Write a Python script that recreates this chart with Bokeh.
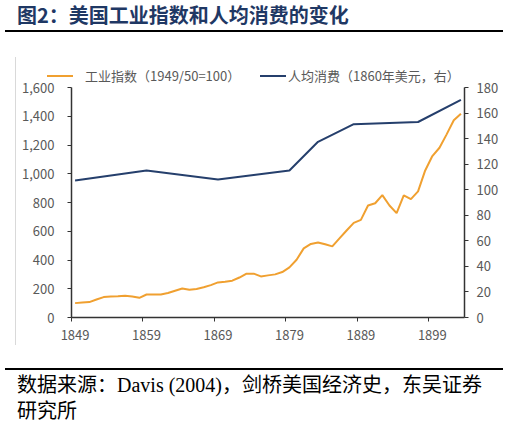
from bokeh.plotting import figure
from bokeh.models import Range1d, LinearAxis, FixedTicker, NumeralTickFormatter, Div
from bokeh.layouts import column, row
from bokeh.embed import file_html
from bokeh.resources import INLINE

# industrial index, 1949/50 = 100 (left axis)
ind_years = list(range(1849, 1904))
industry = [100, 104, 107, 125, 142, 146, 147, 151, 146, 137,
            160, 160, 160, 170, 186, 202, 193, 198, 210, 225,
            244, 249, 256, 278, 305, 305, 286, 293, 300, 316,
            349, 402, 481, 512, 522, 509, 495, 550, 605, 658,
            679, 779, 795, 851, 779, 726, 849, 823, 877, 1023,
            1123, 1181, 1274, 1372, 1418]

# per capita consumption, 1860 dollars (right axis)
cons_years = [1849, 1859, 1869, 1879, 1883, 1888, 1897, 1903]
consumption = [107.2, 115, 108, 115, 137.5, 151.3, 153, 170.3]

tick_years = [1849, 1859, 1869, 1879, 1889, 1899]
left_ticks = [0, 200, 400, 600, 800, 1000, 1200, 1400, 1600]
right_ticks = [0, 20, 40, 60, 80, 100, 120, 140, 160, 180]

title_text = "图2：美国工业指数和人均消费的变化"
legend_ind = "工业指数（1949/50=100）"
legend_cons = "人均消费（1860年美元，右）"
source_1 = "数据来源：Davis (2004)，剑桥美国经济史，东吴证券"
source_2 = "研究所"

ORANGE = "#F0A030"
NAVY = "#253F6C"
GREY = "#595959"
AXIS = "#333333"
SANS = "Noto Sans CJK SC"

p = figure(width=493, height=266, output_backend="svg", toolbar_location=None,
           x_range=Range1d(1848.5, 1903.5), y_range=Range1d(0, 1600))
p.min_border_left = 55
p.min_border_right = 45
p.min_border_top = 8
p.min_border_bottom = 28
p.outline_line_color = None
p.xgrid.visible = False
p.ygrid.visible = False
p.border_fill_color = None
p.background_fill_color = None
p.margin = 0

p.extra_y_ranges = {"right": Range1d(0, 180)}

p.line(ind_years, industry, line_color=ORANGE, line_width=2)
p.line(cons_years, consumption, y_range_name="right", line_color=NAVY, line_width=2)

# x axis: labels on category centres, tick marks on boundaries
xa = p.xaxis[0]
xa.ticker = FixedTicker(ticks=tick_years,
                        minor_ticks=[y - 0.5 for y in tick_years])
xa.major_tick_out = 0
xa.major_tick_in = 0
xa.minor_tick_out = 4
xa.minor_tick_in = 0
xa.minor_tick_line_color = AXIS
xa.axis_line_color = AXIS
xa.axis_line_width = 1.5
xa.major_label_text_font = SANS
xa.major_label_text_font_size = "13px"
xa.major_label_text_color = GREY
xa.major_label_standoff = 8

ya = p.yaxis[0]
ya.ticker = FixedTicker(ticks=left_ticks)
ya.formatter = NumeralTickFormatter(format="0,0")
ya.major_tick_out = 4
ya.major_tick_in = 0
ya.minor_tick_line_color = None
ya.axis_line_color = AXIS
ya.axis_line_width = 1.5
ya.major_tick_line_color = AXIS
ya.major_label_text_font = SANS
ya.major_label_text_font_size = "13px"
ya.major_label_text_color = GREY
ya.major_label_standoff = 13

ra = LinearAxis(y_range_name="right", ticker=FixedTicker(ticks=right_ticks))
ra.major_tick_out = 4
ra.major_tick_in = 0
ra.minor_tick_line_color = None
ra.axis_line_color = AXIS
ra.axis_line_width = 1.5
ra.major_tick_line_color = AXIS
ra.major_label_text_font = SANS
ra.major_label_text_font_size = "13px"
ra.major_label_text_color = GREY
ra.major_label_standoff = 8
p.add_layout(ra, "right")

title_div = Div(width=509, height=57, margin=0, text=(
    '<div style="margin-left:5px;width:498px;height:32px;'
    'border-bottom:2px solid #000;">'
    '<div style="padding-left:12px;font-family:\'Noto Sans CJK SC\';'
    'font-weight:bold;font-size:20px;line-height:30px;color:#1F3864;'
    'white-space:nowrap;">' + title_text + '</div></div>'))

key = 'position:absolute;top:18px;width:26px;height:2px;'
lab = ('position:absolute;top:10px;line-height:18px;font-size:13px;'
       'font-family:\'Noto Sans CJK SC\';color:' + GREY + ';white-space:nowrap;')
legend_div = Div(width=493, height=22, margin=0,
                 styles={"overflow": "visible", "z-index": "1"}, text=(
    '<div style="position:relative;width:493px;height:22px;">'
    '<div style="' + key + 'left:31px;background:' + ORANGE + ';"></div>'
    '<div style="' + lab + 'left:69px;">' + legend_ind + '</div>'
    '<div style="' + key + 'left:244px;background:' + NAVY + ';"></div>'
    '<div style="' + lab + 'left:272px;">' + legend_cons + '</div>'
    '</div>'))

edge_div = Div(width=1, height=288, margin=0,
               styles={"background-color": "#D9D9D9"})

footer_div = Div(width=509, height=86, margin=0, text=(
    '<div style="margin-left:5px;width:498px;margin-top:23px;'
    'border-top:2px solid #000;padding-left:12px;padding-top:2px;'
    'font-family:\'Liberation Serif\',\'Noto Sans CJK SC\';font-size:20px;'
    'line-height:26px;color:#000;white-space:nowrap;">'
    + source_1 + '<br>' + source_2 + '</div>'))

layout = column(title_div,
                row(edge_div, column(legend_div, p, spacing=0),
                    margin=(0, 0, 0, 15), spacing=0),
                footer_div, spacing=0)

open("out.html", "w").write(file_html(layout, INLINE))
